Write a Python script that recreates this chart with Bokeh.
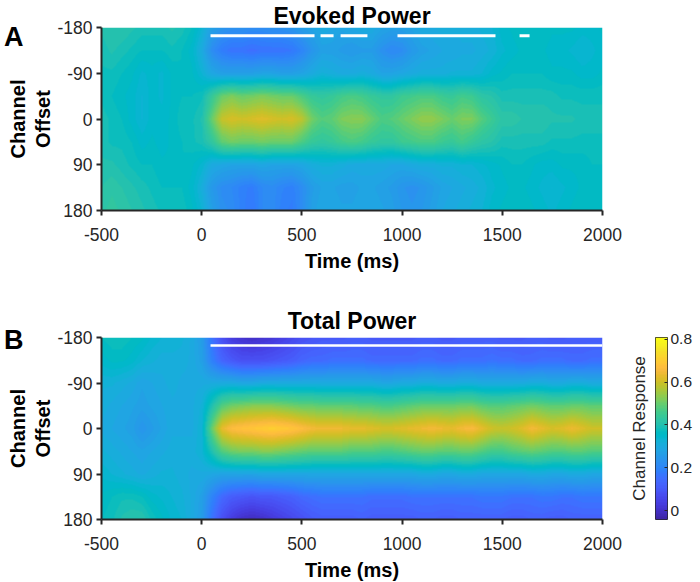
import numpy as np
from bokeh.plotting import figure
from bokeh.models import (Range1d, LinearColorMapper, FixedTicker,
                          NumeralTickFormatter, LinearAxis)
from bokeh.layouts import column, row
from bokeh.embed import file_html
from bokeh.resources import INLINE

# ---------------- data ----------------
time_ms = list(range(-500, 2001, 50))            # sample times (ms)
channel_offsets = [-180, -135, -90, -45, 0, 45, 90, 135, 180]
x_ticks = [-500, 0, 500, 1000, 1500, 2000]
y_ticks = [-180, -90, 0, 90, 180]
cbar_ticks = [0, 0.2, 0.4, 0.6, 0.8]
cbar_low, cbar_high = -0.042, 0.809

# Evoked power: one list per channel offset, values at time_ms
evoked_m180 = [0.40,0.41,0.41,0.40,0.39,0.39,0.39,0.40,0.39,0.37,
               0.33,0.27,0.24,0.23,0.23,0.22,0.22,0.23,0.23,0.24,
               0.26,0.28,0.30,0.29,0.28,0.29,0.30,0.30,0.28,0.27,
               0.27,0.28,0.30,0.30,0.31,0.31,0.31,0.31,0.32,0.33,
               0.35,0.36,0.37,0.37,0.37,0.36,0.36,0.36,0.35,0.35,0.36]
evoked_m135 = [0.39,0.40,0.39,0.38,0.37,0.37,0.37,0.38,0.37,0.35,
               0.30,0.22,0.18,0.16,0.16,0.15,0.16,0.16,0.16,0.17,
               0.20,0.24,0.27,0.27,0.26,0.25,0.26,0.26,0.23,0.21,
               0.22,0.25,0.27,0.28,0.29,0.29,0.30,0.30,0.31,0.32,
               0.34,0.35,0.36,0.36,0.36,0.35,0.35,0.34,0.33,0.34,0.35]
evoked_m90 = [0.38,0.38,0.37,0.36,0.34,0.35,0.34,0.36,0.37,0.36,
              0.33,0.29,0.27,0.27,0.27,0.27,0.28,0.28,0.27,0.27,
              0.28,0.30,0.32,0.31,0.30,0.30,0.31,0.30,0.28,0.28,
              0.29,0.30,0.31,0.31,0.31,0.32,0.32,0.32,0.33,0.35,
              0.36,0.37,0.37,0.37,0.37,0.36,0.36,0.36,0.35,0.35,0.36]
evoked_m45 = [0.38,0.37,0.36,0.35,0.33,0.35,0.34,0.36,0.37,0.37,
              0.38,0.44,0.50,0.52,0.50,0.51,0.52,0.51,0.50,0.50,
              0.47,0.44,0.43,0.44,0.46,0.47,0.46,0.44,0.43,0.43,
              0.45,0.46,0.47,0.47,0.45,0.44,0.46,0.45,0.42,0.41,
              0.39,0.39,0.39,0.39,0.39,0.39,0.38,0.38,0.38,0.38,0.38]
evoked_0 = [0.39,0.38,0.37,0.35,0.33,0.35,0.35,0.36,0.38,0.38,
            0.40,0.50,0.59,0.61,0.60,0.61,0.62,0.61,0.60,0.61,
            0.58,0.51,0.48,0.49,0.52,0.53,0.53,0.50,0.47,0.48,
            0.50,0.52,0.54,0.54,0.52,0.50,0.52,0.52,0.48,0.45,
            0.42,0.42,0.41,0.41,0.41,0.40,0.40,0.40,0.39,0.39,0.39]
evoked_p45 = [0.39,0.38,0.38,0.37,0.35,0.36,0.35,0.36,0.37,0.38,
              0.39,0.43,0.49,0.51,0.50,0.50,0.51,0.50,0.50,0.50,
              0.47,0.44,0.43,0.44,0.46,0.47,0.46,0.44,0.43,0.43,
              0.45,0.46,0.47,0.47,0.45,0.44,0.46,0.44,0.42,0.41,
              0.39,0.39,0.39,0.39,0.39,0.38,0.38,0.38,0.38,0.38,0.38]
evoked_p90 = [0.40,0.40,0.39,0.38,0.37,0.37,0.36,0.36,0.37,0.36,
              0.34,0.30,0.29,0.28,0.28,0.28,0.29,0.28,0.28,0.28,
              0.29,0.31,0.32,0.32,0.31,0.30,0.30,0.30,0.30,0.29,
              0.29,0.30,0.31,0.31,0.32,0.32,0.33,0.33,0.34,0.35,
              0.36,0.37,0.37,0.36,0.35,0.35,0.36,0.36,0.36,0.37,0.37]
evoked_p135 = [0.41,0.42,0.41,0.40,0.39,0.38,0.37,0.37,0.37,0.35,
               0.31,0.25,0.22,0.21,0.19,0.18,0.21,0.22,0.20,0.19,
               0.22,0.26,0.28,0.28,0.27,0.27,0.28,0.28,0.27,0.26,
               0.24,0.23,0.24,0.26,0.28,0.29,0.30,0.31,0.32,0.34,
               0.35,0.36,0.36,0.35,0.34,0.33,0.34,0.35,0.36,0.36,0.36]
evoked_p180 = [0.42,0.43,0.42,0.41,0.40,0.39,0.38,0.38,0.38,0.36,
               0.33,0.27,0.23,0.22,0.19,0.17,0.21,0.22,0.19,0.18,
               0.22,0.27,0.29,0.29,0.28,0.28,0.29,0.29,0.28,0.27,
               0.25,0.24,0.25,0.27,0.29,0.30,0.31,0.32,0.33,0.35,
               0.36,0.37,0.37,0.36,0.35,0.34,0.35,0.36,0.37,0.37,0.37]

# Total power
total_m180 = [0.37,0.38,0.38,0.37,0.36,0.34,0.33,0.33,0.32,0.30,
              0.26,0.16,0.08,0.03,0.01,0.00,0.01,0.02,0.04,0.06,
              0.08,0.09,0.10,0.10,0.10,0.11,0.11,0.10,0.10,0.10,
              0.10,0.10,0.11,0.11,0.10,0.10,0.11,0.11,0.11,0.11,
              0.10,0.10,0.10,0.11,0.11,0.10,0.10,0.11,0.11,0.11,0.11]
total_m135 = [0.35,0.36,0.36,0.35,0.33,0.32,0.31,0.31,0.31,0.30,
              0.27,0.19,0.13,0.10,0.08,0.08,0.08,0.09,0.10,0.11,
              0.13,0.14,0.14,0.15,0.15,0.15,0.15,0.14,0.14,0.14,
              0.14,0.14,0.15,0.15,0.14,0.14,0.15,0.15,0.15,0.16,
              0.15,0.15,0.14,0.14,0.15,0.15,0.15,0.14,0.14,0.15,0.15]
total_m90 = [0.32,0.32,0.31,0.30,0.28,0.29,0.30,0.31,0.30,0.30,
             0.30,0.30,0.30,0.30,0.29,0.29,0.30,0.30,0.30,0.30,
             0.30,0.30,0.30,0.30,0.30,0.30,0.30,0.30,0.29,0.29,
             0.30,0.30,0.31,0.31,0.30,0.30,0.31,0.31,0.30,0.30,
             0.30,0.30,0.30,0.31,0.31,0.30,0.30,0.31,0.31,0.30,0.30]
total_m45 = [0.31,0.30,0.29,0.28,0.27,0.28,0.29,0.30,0.30,0.30,
             0.32,0.40,0.48,0.51,0.52,0.53,0.53,0.53,0.52,0.51,
             0.50,0.50,0.49,0.49,0.49,0.49,0.48,0.48,0.47,0.47,
             0.48,0.49,0.50,0.50,0.50,0.50,0.51,0.51,0.49,0.48,
             0.48,0.49,0.50,0.51,0.50,0.49,0.49,0.50,0.50,0.49,0.49]
total_0 = [0.30,0.29,0.28,0.27,0.24,0.26,0.28,0.30,0.30,0.30,
           0.33,0.50,0.63,0.67,0.68,0.69,0.70,0.71,0.70,0.69,
           0.67,0.65,0.64,0.64,0.64,0.63,0.63,0.62,0.61,0.61,
           0.62,0.63,0.64,0.65,0.64,0.63,0.65,0.66,0.63,0.60,
           0.59,0.60,0.62,0.65,0.63,0.61,0.62,0.64,0.62,0.60,0.60]
total_p45 = [0.32,0.31,0.30,0.29,0.28,0.29,0.30,0.31,0.31,0.31,
             0.33,0.40,0.48,0.51,0.52,0.52,0.53,0.53,0.52,0.51,
             0.50,0.49,0.49,0.49,0.49,0.48,0.48,0.48,0.47,0.47,
             0.48,0.49,0.50,0.50,0.49,0.49,0.50,0.50,0.48,0.46,
             0.46,0.48,0.49,0.50,0.49,0.48,0.48,0.49,0.49,0.48,0.48]
total_p90 = [0.34,0.33,0.32,0.31,0.30,0.31,0.32,0.32,0.31,0.30,
             0.30,0.29,0.28,0.28,0.28,0.28,0.29,0.29,0.29,0.29,
             0.29,0.29,0.29,0.29,0.29,0.29,0.29,0.29,0.29,0.29,
             0.29,0.29,0.30,0.30,0.29,0.29,0.30,0.30,0.29,0.29,
             0.29,0.29,0.29,0.30,0.30,0.29,0.29,0.30,0.30,0.29,0.29]
total_p135 = [0.36,0.37,0.38,0.38,0.37,0.35,0.34,0.33,0.32,0.30,
              0.27,0.20,0.14,0.11,0.10,0.09,0.10,0.10,0.11,0.12,
              0.14,0.15,0.16,0.16,0.16,0.16,0.16,0.15,0.15,0.15,
              0.15,0.16,0.16,0.16,0.16,0.16,0.16,0.16,0.17,0.17,
              0.17,0.16,0.16,0.16,0.17,0.17,0.16,0.16,0.17,0.17,0.17]
total_p180 = [0.37,0.38,0.40,0.41,0.41,0.38,0.36,0.34,0.33,0.30,
              0.26,0.16,0.08,0.03,0.00,-0.01,0.00,0.02,0.04,0.06,
              0.08,0.10,0.11,0.11,0.11,0.11,0.12,0.11,0.11,0.11,
              0.11,0.11,0.12,0.12,0.11,0.11,0.12,0.12,0.12,0.12,
              0.12,0.11,0.11,0.12,0.12,0.11,0.11,0.12,0.12,0.12,0.12]

# significant time windows (ms)
evoked_sig_start = [44, 593, 693, 977, 1586]
evoked_sig_end = [563, 658, 827, 1466, 1636]
total_sig_start = [44]
total_sig_end = [2000]

# ---------------- style ----------------
parula_rgb = [
 (0.2422,0.1504,0.6603),(0.2504,0.1650,0.7076),(0.2578,0.1818,0.7511),(0.2647,0.1978,0.7952),
 (0.2706,0.2147,0.8364),(0.2751,0.2342,0.8710),(0.2783,0.2559,0.8991),(0.2803,0.2782,0.9221),
 (0.2813,0.3006,0.9414),(0.2810,0.3228,0.9579),(0.2795,0.3447,0.9717),(0.2760,0.3667,0.9829),
 (0.2699,0.3892,0.9906),(0.2602,0.4123,0.9952),(0.2440,0.4358,0.9988),(0.2206,0.4603,0.9973),
 (0.1963,0.4847,0.9892),(0.1834,0.5074,0.9798),(0.1786,0.5289,0.9682),(0.1764,0.5499,0.9520),
 (0.1687,0.5703,0.9359),(0.1540,0.5902,0.9218),(0.1460,0.6091,0.9079),(0.1380,0.6276,0.8973),
 (0.1248,0.6459,0.8883),(0.1113,0.6635,0.8763),(0.0952,0.6798,0.8598),(0.0689,0.6948,0.8394),
 (0.0297,0.7082,0.8163),(0.0036,0.7203,0.7917),(0.0067,0.7312,0.7660),(0.0433,0.7411,0.7394),
 (0.0964,0.7500,0.7120),(0.1408,0.7584,0.6842),(0.1717,0.7670,0.6554),(0.1938,0.7758,0.6251),
 (0.2161,0.7843,0.5923),(0.2470,0.7918,0.5567),(0.2906,0.7973,0.5188),(0.3406,0.8008,0.4789),
 (0.3909,0.8029,0.4354),(0.4456,0.8024,0.3909),(0.5044,0.7993,0.3480),(0.5616,0.7942,0.3045),
 (0.6174,0.7876,0.2612),(0.6720,0.7793,0.2227),(0.7242,0.7698,0.1910),(0.7738,0.7598,0.1646),
 (0.8203,0.7498,0.1535),(0.8634,0.7406,0.1596),(0.9035,0.7330,0.1774),(0.9393,0.7288,0.2100),
 (0.9728,0.7298,0.2394),(0.9956,0.7434,0.2371),(0.9970,0.7659,0.2199),(0.9952,0.7893,0.2028),
 (0.9892,0.8136,0.1885),(0.9786,0.8386,0.1766),(0.9676,0.8639,0.1643),(0.9610,0.8890,0.1537),
 (0.9597,0.9135,0.1423),(0.9628,0.9373,0.1265),(0.9691,0.9606,0.1064),(0.9769,0.9839,0.0805)]
PARULA = ["#%02x%02x%02x" % tuple(int(round(c * 255)) for c in rgb) for rgb in parula_rgb]

FONT = "Liberation Sans"
DARK = "#262626"
mapper = LinearColorMapper(palette=PARULA, low=cbar_low, high=cbar_high)


def display_grid(rows):
    """Bilinear display resampling of the read grid (like MATLAB's interpolated shading)."""
    z = np.array(rows, dtype=float)
    t_fine = np.linspace(time_ms[0], time_ms[-1], 501)
    o_fine = np.linspace(channel_offsets[0], channel_offsets[-1], 361)
    zt = np.array([np.interp(t_fine, time_ms, r) for r in z])
    zo = np.array([np.interp(o_fine, channel_offsets, zt[:, j]) for j in range(zt.shape[1])]).T
    return zo


def panel(rows, title, letter, letter_row, sig_start, sig_end, sig_width, frame_h,
          top, bottom, right, title_standoff):
    p = figure(title=title, frame_width=501, frame_height=frame_h,
               x_range=Range1d(-500, 2000), y_range=Range1d(180, -180),
               min_border_left=101, min_border_right=right,
               min_border_top=top, min_border_bottom=bottom,
               output_backend="svg", toolbar_location=None)
    p.outline_line_color = None
    p.xgrid.visible = False
    p.ygrid.visible = False
    p.image(image=[display_grid(rows)], x=-500, y=-180, dw=2500, dh=360,
            color_mapper=mapper)
    p.segment(x0=sig_start, x1=sig_end, y0=-164, y1=-164,
              line_color="white", line_width=sig_width)

    p.title.align = "center"
    p.title.text_font = FONT
    p.title.text_font_style = "bold"
    p.title.text_font_size = "23px"
    p.title.text_color = "black"
    p.title.standoff = title_standoff

    xa = p.xaxis[0]
    ya = p.yaxis[0]
    for ax in (xa, ya):
        ax.axis_line_color = DARK
        ax.axis_line_width = 2
        ax.major_tick_line_color = DARK
        ax.major_tick_line_width = 2
        ax.major_tick_out = 5
        ax.major_tick_in = 0
        ax.minor_tick_line_color = None
        ax.major_label_text_font = FONT
        ax.major_label_text_font_size = "17.5px"
        ax.major_label_text_color = DARK
        ax.axis_label_text_font = FONT
        ax.axis_label_text_font_style = "bold"
        ax.axis_label_text_font_size = "20px"
        ax.axis_label_text_color = "black"
    xa.ticker = FixedTicker(ticks=x_ticks)
    ya.ticker = FixedTicker(ticks=y_ticks)
    xa.major_label_overrides = {t: str(t) for t in x_ticks}
    ya.major_label_overrides = {t: str(t) for t in y_ticks}
    xa.major_label_standoff = 12
    ya.major_label_standoff = 4
    xa.axis_label = "Time (ms)"
    xa.axis_label_standoff = 6
    ya.axis_label = "Channel\nOffset"
    ya.axis_label_standoff = 0
    ya.axis_label_text_line_height = 1.15

    # panel letter: a bare outer axis whose single label sits at the top-left corner
    letter_axis = LinearAxis(ticker=FixedTicker(ticks=[letter_row]),
                             major_label_overrides={letter_row: letter},
                             axis_line_color=None, major_tick_out=0, major_tick_in=0,
                             minor_tick_line_color=None, major_label_standoff=-19,
                             major_label_text_font=FONT,
                             major_label_text_font_style="bold",
                             major_label_text_font_size="27px",
                             major_label_text_color="black")
    p.add_layout(letter_axis, "left")
    return p


pA = panel([evoked_m180, evoked_m135, evoked_m90, evoked_m45, evoked_0,
            evoked_p45, evoked_p90, evoked_p135, evoked_p180],
           "Evoked Power", "A", -162, evoked_sig_start, evoked_sig_end, 3,
           183, 27, 80, 94, -2)
pB = panel([total_m180, total_m135, total_m90, total_m45, total_0,
            total_p45, total_p90, total_p135, total_p180],
           "Total Power", "B", -176, total_sig_start, total_sig_end, 2.5,
           182, 47, 63, 20, 8)

# colour bar
cb = figure(frame_width=12, frame_height=182, x_range=Range1d(0, 1),
            y_range=Range1d(cbar_low, cbar_high),
            x_axis_location=None, y_axis_location="right",
            min_border_left=33, min_border_right=29,
            min_border_top=47, min_border_bottom=63,
            output_backend="svg", toolbar_location=None)
cb.xgrid.visible = False
cb.ygrid.visible = False
cb.image(image=[np.linspace(cbar_low, cbar_high, 256).reshape(-1, 1)],
         x=0, y=cbar_low, dw=1, dh=cbar_high - cbar_low, color_mapper=mapper)
cb.outline_line_color = DARK
cb.outline_line_width = 1
cya = cb.yaxis[0]
cya.ticker = FixedTicker(ticks=cbar_ticks)
cya.formatter = NumeralTickFormatter(format="0.[0]")
cya.axis_line_color = None
cya.major_tick_in = 3
cya.major_tick_out = 0
cya.major_tick_line_color = DARK
cya.minor_tick_line_color = None
cya.major_label_standoff = 3
cya.major_label_text_font = FONT
cya.major_label_text_font_size = "15.5px"
cya.major_label_text_color = DARK
cb_title_axis = LinearAxis(ticker=FixedTicker(ticks=[]), axis_line_color=None,
                           major_tick_out=0, major_tick_in=0,
                           minor_tick_line_color=None, major_label_standoff=0,
                           axis_label="Channel Response", axis_label_standoff=7,
                           axis_label_text_font=FONT,
                           axis_label_text_font_style="normal",
                           axis_label_text_font_size="17px",
                           axis_label_text_color=DARK)
cb.add_layout(cb_title_axis, "left")

layout = column(pA, row(pB, cb))
open("out.html", "w").write(file_html(layout, INLINE))
